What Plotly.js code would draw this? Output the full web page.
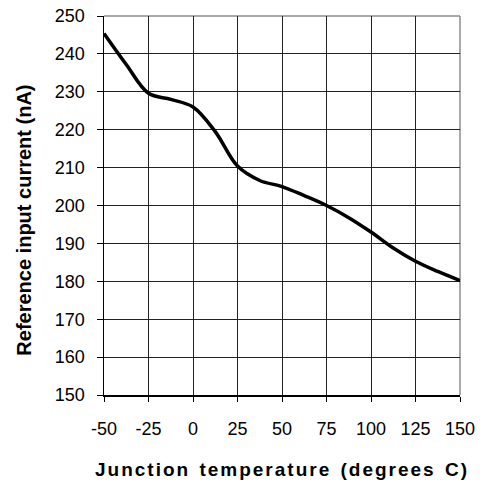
<!DOCTYPE html>
<html>
<head>
<meta charset="utf-8">
<script src="https://cdn.plot.ly/plotly-3.0.1.min.js"></script>
<style>
  html, body { margin: 0; padding: 0; background: #fff; }
  #chart { width: 486px; height: 485px; }
  .xtitle { letter-spacing: 2px; word-spacing: 2px; }
</style>
</head>
<body>
<div id="chart"></div>
<script>
// Junction temperature (degrees C)
const temperature = [-50, -37.5, -25, -12.5, 0, 12.5, 25, 37.5, 50, 62.5, 75, 87.5, 100, 112.5, 125, 137.5, 150];
// Reference input current (nA)
const inputCurrent = [245.4, 237.2, 229.6, 228.0, 226.0, 219.5, 210.4, 206.6, 205.0, 202.6, 200.0, 196.8, 193.0, 188.8, 185.3, 182.6, 180.2];

const xTicks = [-50, -25, 0, 25, 50, 75, 100, 125, 150];
const yTicks = [150, 160, 170, 180, 190, 200, 210, 220, 230, 240, 250];

const baseFont = 'Arial, "Liberation Sans", sans-serif';

const trace = {
  x: temperature,
  y: inputCurrent,
  type: 'scatter',
  mode: 'lines',
  line: { color: '#000', width: 3.5, shape: 'spline', smoothing: 1 },
  hoverinfo: 'skip'
};

const layout = {
  width: 486,
  height: 485,
  margin: { l: 104, r: 26, t: 16, b: 90 },
  paper_bgcolor: '#fff',
  plot_bgcolor: '#fff',
  showlegend: false,
  font: { family: baseFont, color: '#000', size: 18 },
  xaxis: {
    range: [-50, 150],
    tickvals: xTicks,
    ticktext: xTicks.map(String),
    showgrid: true,
    gridcolor: '#222',
    gridwidth: 1,
    zeroline: false,
    showline: true,
    linecolor: '#000',
    linewidth: 1.5,
    ticks: 'outside',
    ticklen: 5,
    tickcolor: '#000',
    tickfont: { size: 18, family: baseFont },
    ticklabelstandoff: 12,
    title: {
      text: 'Junction temperature (degrees C)',
      font: { size: 19, family: baseFont, weight: 'bold' },
      standoff: 24
    },
    fixedrange: true
  },
  yaxis: {
    range: [150, 250],
    tickvals: yTicks,
    ticktext: yTicks.map(String),
    showgrid: true,
    gridcolor: '#222',
    gridwidth: 1,
    zeroline: false,
    showline: true,
    linecolor: '#000',
    linewidth: 1.5,
    ticks: 'outside',
    ticklen: 6,
    tickcolor: '#000',
    tickfont: { size: 18, family: baseFont },
    ticklabelstandoff: 8,
    fixedrange: true
  },
  annotations: [{
    text: '<b>Reference input current (nA)</b>',
    xref: 'paper', yref: 'paper',
    x: 0, y: 0.46,
    xshift: -80,
    xanchor: 'center', yanchor: 'middle',
    textangle: -90,
    showarrow: false,
    font: { size: 20, family: baseFont, color: '#000' }
  }],
  shapes: [
    { type: 'line', xref: 'paper', yref: 'paper', x0: 0, x1: 1, y0: 1, y1: 1,
      line: { color: '#8c8c8c', width: 1.5 }, layer: 'below' },
    { type: 'line', xref: 'paper', yref: 'paper', x0: 1, x1: 1, y0: 0, y1: 1,
      line: { color: '#8c8c8c', width: 1.5 }, layer: 'below' }
  ]
};

Plotly.newPlot('chart', [trace], layout, { displayModeBar: false, staticPlot: true });
</script>
</body>
</html>
